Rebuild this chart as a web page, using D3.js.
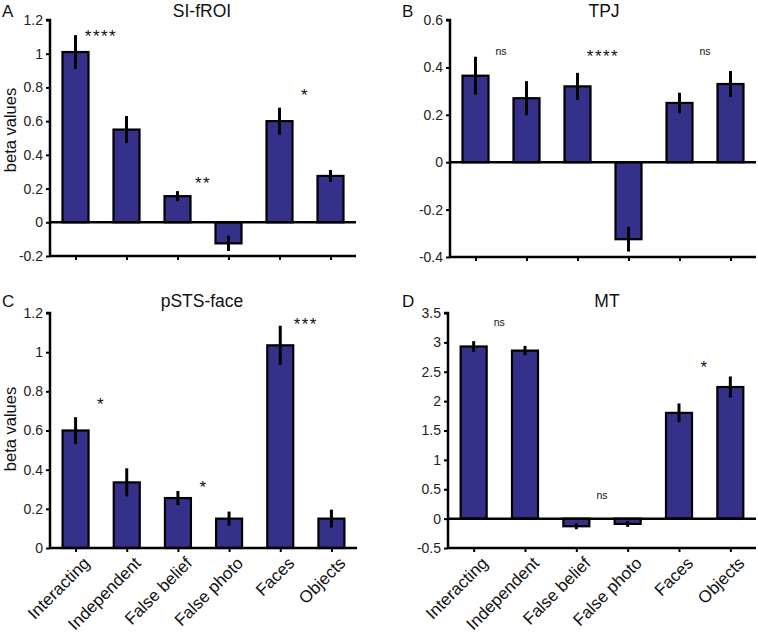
<!DOCTYPE html>
<html>
<head>
<meta charset="utf-8">
<script src="https://cdn.jsdelivr.net/npm/d3@7"></script>
<style>
  html, body { margin: 0; padding: 0; background: #fff; }
  svg { display: block; font-family: "Liberation Sans", Arial, Helvetica, sans-serif; }
</style>
</head>
<body>
<svg id="chart" width="758" height="635"></svg>
<script>
// ---------- data ----------
const categories = ["Interacting", "Independent", "False belief", "False photo", "Faces", "Objects"];

const siValues   = [1.01, 0.55, 0.155, -0.125, 0.60, 0.275];
const siErrors   = [0.10, 0.08, 0.03, 0.045, 0.08, 0.035];
const siTicks    = [-0.2, 0, 0.2, 0.4, 0.6, 0.8, 1, 1.2];
const siAnnoText = ["****", "**", "*"];
const siAnnoPos  = [0.5, 2.5, 4.5];
const siAnnoY    = [1.13, 0.255, 0.78];

const tpjValues   = [0.365, 0.27, 0.32, -0.325, 0.25, 0.33];
const tpjErrors   = [0.08, 0.072, 0.057, 0.052, 0.043, 0.055];
const tpjTicks    = [-0.4, -0.2, 0, 0.2, 0.4, 0.6];
const tpjAnnoText = ["ns", "****", "ns"];
const tpjAnnoPos  = [0.5, 2.5, 4.5];
const tpjAnnoY    = [0.465, 0.465, 0.465];

const pstsValues   = [0.60, 0.335, 0.255, 0.15, 1.035, 0.15];
const pstsErrors   = [0.068, 0.072, 0.036, 0.036, 0.10, 0.046];
const pstsTicks    = [0, 0.2, 0.4, 0.6, 0.8, 1, 1.2];
const pstsAnnoText = ["*", "*", "***"];
const pstsAnnoPos  = [0.5, 2.5, 4.5];
const pstsAnnoY    = [0.756, 0.33, 1.165];

const mtValues   = [2.93, 2.86, -0.13, -0.09, 1.80, 2.24];
const mtErrors   = [0.09, 0.08, 0.05, 0.05, 0.16, 0.18];
const mtTicks    = [-0.5, 0, 0.5, 1, 1.5, 2, 2.5, 3, 3.5];
const mtAnnoText = ["ns", "ns", "*"];
const mtAnnoPos  = [0.5, 2.5, 4.5];
const mtAnnoY    = [3.33, 0.385, 2.65];

// ---------- drawing ----------
const svg = d3.select("#chart");
const barColor = "#35318a";

function drawPanel(cfg) {
  const g = svg.append("g");
  const y = d3.scaleLinear().domain([cfg.ticks[0], cfg.ticks[cfg.ticks.length - 1]])
    .range([cfg.bottom, cfg.top]);
  const x = d3.scalePoint().domain(categories).range([cfg.left, cfg.right]).padding(0.5);
  const step = x.step();
  const barW = 26;
  const rows = categories.map((c, i) => ({ c, v: cfg.values[i], e: cfg.errors[i] }));

  // bars
  g.selectAll("rect.bar").data(rows).join("rect")
    .attr("class", "bar")
    .attr("x", d => x(d.c) - barW / 2)
    .attr("width", barW)
    .attr("y", d => y(Math.max(0, d.v)))
    .attr("height", d => Math.abs(y(d.v) - y(0)))
    .attr("fill", barColor)
    .attr("stroke", "#000")
    .attr("stroke-width", 2.2);

  // error bars
  g.selectAll("line.err").data(rows).join("line")
    .attr("class", "err")
    .attr("x1", d => x(d.c)).attr("x2", d => x(d.c))
    .attr("y1", d => y(d.v - d.e)).attr("y2", d => y(d.v + d.e))
    .attr("stroke", "#000").attr("stroke-width", 3);

  // zero line
  if (cfg.ticks[0] < 0) {
    g.append("line")
      .attr("x1", cfg.left).attr("x2", cfg.right)
      .attr("y1", y(0)).attr("y2", y(0))
      .attr("stroke", "#000").attr("stroke-width", 2.5);
  }

  // y axis
  const yAxis = d3.axisLeft(y).tickValues(cfg.ticks).tickSize(4).tickPadding(3)
    .tickFormat(d => String(d));
  const ya = g.append("g").attr("transform", `translate(${cfg.left},0)`).call(yAxis);
  ya.select(".domain").attr("stroke", "#000").attr("stroke-width", 2.5)
    .attr("d", `M-4,${cfg.top}H0V${cfg.bottom}`);
  ya.selectAll(".tick line").attr("stroke", "#000").attr("stroke-width", 2);
  ya.selectAll(".tick text").attr("font-size", 14).attr("fill", "#222")
    .attr("font-family", "Liberation Sans, Arial, sans-serif");

  // x axis (at the bottom of the domain)
  const xAxis = d3.axisBottom(x).tickSize(4).tickFormat("");
  const xa = g.append("g").attr("transform", `translate(0,${cfg.bottom})`).call(xAxis);
  xa.select(".domain").attr("stroke", "#000").attr("stroke-width", 2.5)
    .attr("d", `M${cfg.left},0H${cfg.right}`);
  xa.selectAll(".tick line").attr("stroke", "#000").attr("stroke-width", 2);

  if (cfg.showLabels) {
    g.selectAll("text.xl").data(categories).join("text")
      .attr("class", "xl")
      .attr("transform", d => `translate(${x(d) + 11},${cfg.bottom + 12}) rotate(-45)`)
      .attr("text-anchor", "end")
      .attr("dy", "0.35em")
      .attr("font-size", 17)
      .attr("fill", "#111")
      .text(d => d);
  }

  // annotations
  const x0 = x(categories[0]);
  cfg.annoText.forEach((t, i) => {
    const isNs = t === "ns";
    const fs = isNs ? 10.5 : 17;
    const off = isNs ? 3 : 10;
    g.append("text")
      .attr("x", x0 + cfg.annoPos[i] * step)
      .attr("y", y(cfg.annoY[i]) + off)
      .attr("text-anchor", "middle")
      .attr("font-size", fs)
      .attr("letter-spacing", isNs ? 0 : 1.5)
      .attr("fill", "#111")
      .text(t);
  });

  // title
  g.append("text")
    .attr("x", cfg.titleX).attr("y", cfg.titleY)
    .attr("text-anchor", "middle")
    .attr("font-size", 17.5)
    .attr("fill", "#111")
    .text(cfg.title);

  // panel letter
  g.append("text")
    .attr("x", cfg.letterX).attr("y", cfg.titleY)
    .attr("font-size", 17)
    .attr("fill", "#111")
    .text(cfg.letter);

  // y label
  if (cfg.yLabel) {
    g.append("text")
      .attr("transform", `translate(16,${cfg.yLabelY}) rotate(-90)`)
      .attr("text-anchor", "middle")
      .attr("font-size", 16.5)
      .attr("fill", "#111")
      .text(cfg.yLabel);
  }
}

drawPanel({ values: siValues, errors: siErrors, ticks: siTicks,
  annoText: siAnnoText, annoPos: siAnnoPos, annoY: siAnnoY,
  left: 50, right: 356, top: 20, bottom: 256,
  title: "SI-fROI", titleX: 202, titleY: 17, letter: "A", letterX: 2,
  yLabel: "beta values", yLabelY: 130, showLabels: false });

drawPanel({ values: tpjValues, errors: tpjErrors, ticks: tpjTicks,
  annoText: tpjAnnoText, annoPos: tpjAnnoPos, annoY: tpjAnnoY,
  left: 450, right: 756, top: 20, bottom: 257,
  title: "TPJ", titleX: 604, titleY: 17, letter: "B", letterX: 402,
  yLabel: null, showLabels: false });

drawPanel({ values: pstsValues, errors: pstsErrors, ticks: pstsTicks,
  annoText: pstsAnnoText, annoPos: pstsAnnoPos, annoY: pstsAnnoY,
  left: 50, right: 357, top: 313, bottom: 548,
  title: "pSTS-face", titleX: 202, titleY: 307, letter: "C", letterX: 2,
  yLabel: "beta values", yLabelY: 429, showLabels: true });

drawPanel({ values: mtValues, errors: mtErrors, ticks: mtTicks,
  annoText: mtAnnoText, annoPos: mtAnnoPos, annoY: mtAnnoY,
  left: 448, right: 756, top: 313, bottom: 548,
  title: "MT", titleX: 607, titleY: 307, letter: "D", letterX: 402,
  yLabel: null, showLabels: true });
</script>
</body>
</html>
